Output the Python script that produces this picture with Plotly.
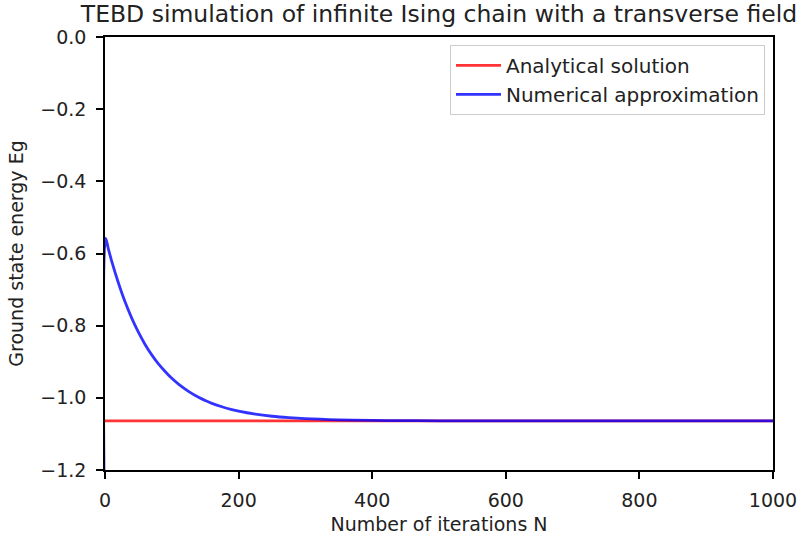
import plotly.graph_objects as go

# Data
iterations = [0, 1, 5, 10, 20, 30, 40, 50, 60, 70, 80, 90, 100, 110, 125, 140,
              150, 160, 175, 190, 200, 225, 250, 275, 300, 350, 400, 450, 500,
              600, 700, 800, 900, 1000]
numerical = [-1.5, -0.558, -0.587, -0.621, -0.681, -0.734, -0.779, -0.818, -0.852,
             -0.881, -0.906, -0.927, -0.946, -0.962, -0.982, -0.9985, -1.0074,
             -1.0152, -1.0248, -1.0326, -1.0369, -1.0452, -1.051, -1.055, -1.0578,
             -1.061, -1.0626, -1.0633, -1.0636, -1.064, -1.064, -1.064, -1.064, -1.064]
analytical_x = [0, 1000]
analytical_value = -1.064
analytical_y = [analytical_value] * len(analytical_x)

x_ticks = [0, 200, 400, 600, 800, 1000]
y_ticks = [0.0, -0.2, -0.4, -0.6, -0.8, -1.0, -1.2]

FONT = "DejaVu Sans"
TXT = "#222222"

fig = go.Figure()
fig.add_trace(go.Scatter(x=analytical_x, y=analytical_y, mode="lines",
                         name="Analytical solution",
                         line=dict(color="rgba(255,0,0,0.8)", width=2.8)))
fig.add_trace(go.Scatter(x=iterations, y=numerical, mode="lines",
                         name="Numerical approximation", line_shape="spline",
                         line=dict(color="rgba(0,0,255,0.8)", width=2.8)))

axis_common = dict(showline=True, linecolor="black", linewidth=1.5, mirror=True,
                   ticks="outside", ticklen=7, tickwidth=1.5, tickcolor="black",
                   showgrid=False, zeroline=False, automargin=False,
                   tickfont=dict(family=FONT, size=19, color=TXT))

fig.update_layout(
    width=811, height=537,
    margin=dict(l=105, r=38, t=37, b=67),
    paper_bgcolor="white", plot_bgcolor="white",
    font=dict(family=FONT, color=TXT),
    title=dict(text="TEBD simulation of infinite Ising chain with a transverse field",
               x=0.5, xref="paper", xanchor="center",
               y=0.974, yref="container", yanchor="middle",
               font=dict(family=FONT, size=23.5, color=TXT)),
    xaxis=dict(range=[0, 1000], tickvals=x_ticks, ticktext=[str(v) for v in x_ticks],
               ticklabelstandoff=5,
               title=dict(text="Number of iterations N", font=dict(family=FONT, size=19),
                          standoff=8),
               **axis_common),
    yaxis=dict(range=[-1.2, 0.0], tickvals=y_ticks, tickformat=".1f",
               ticklabelstandoff=6,
               title=dict(text="Ground state energy Eg", font=dict(family=FONT, size=19),
                          standoff=12),
               **axis_common),
    legend=dict(x=0.988, y=0.982, xanchor="right", yanchor="top",
                bgcolor="rgba(255,255,255,0.8)", bordercolor="#cccccc", borderwidth=1,
                font=dict(family=FONT, size=20, color=TXT),
                itemwidth=45),
    showlegend=True,
)

fig.write_html("out.html")
